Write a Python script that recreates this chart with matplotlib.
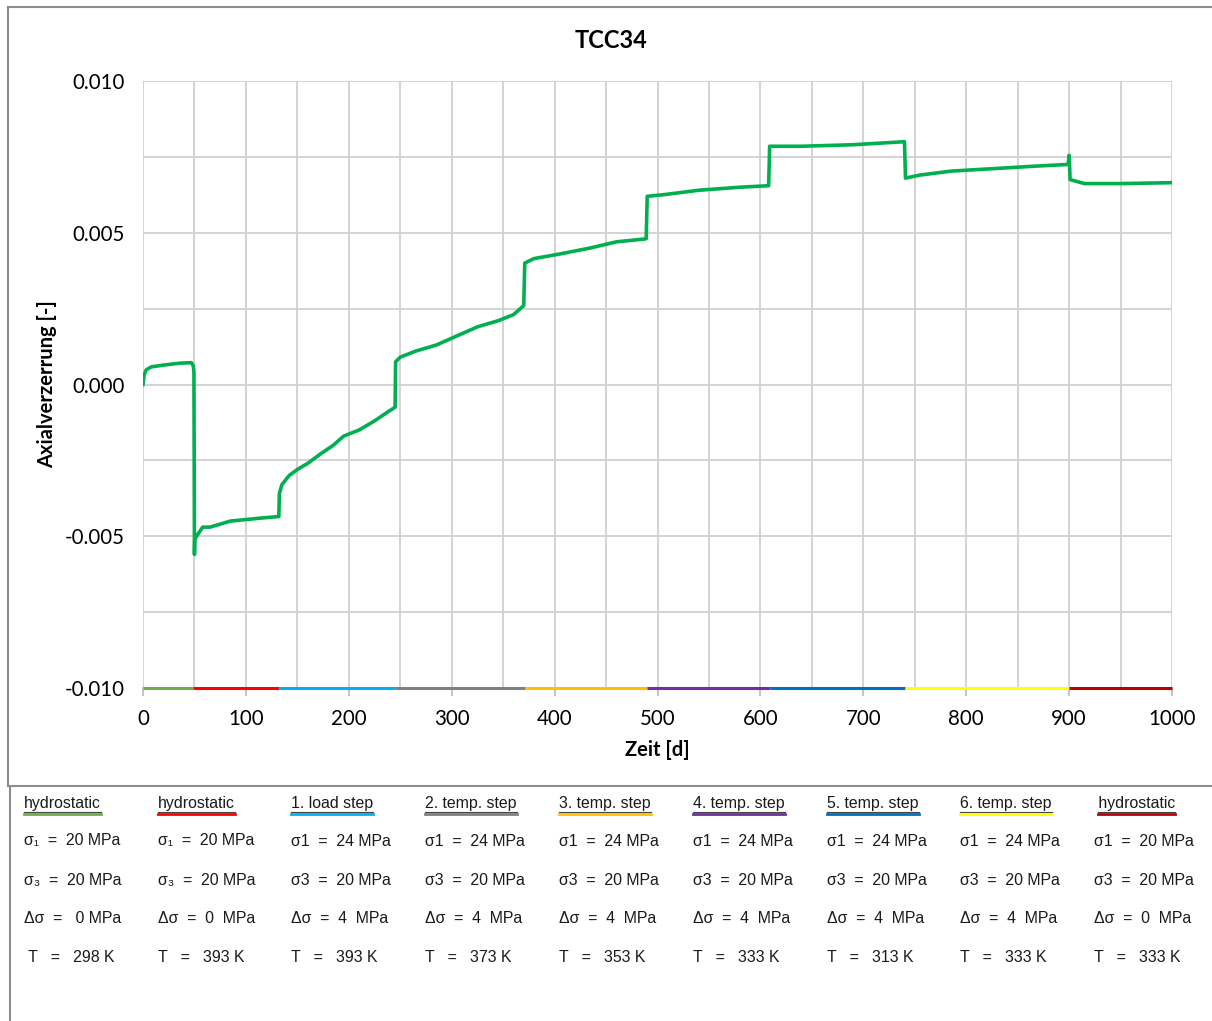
import matplotlib
matplotlib.use("Agg")
import matplotlib.pyplot as plt
from matplotlib.lines import Line2D
from matplotlib.ticker import MultipleLocator

plt.rcParams["font.family"] = ["Lato", "DejaVu Sans"]

# strain curve
days = [0, 1, 3, 8, 20, 35, 47, 49, 49.5,
        49.8, 50, 50.3, 54, 58, 65, 75, 85, 100, 115, 132,
        132.5, 135, 142, 150, 160, 172, 185, 195, 210, 225, 238, 245,
        245.5, 250, 265, 285, 305, 325, 345, 360, 370,
        371, 380, 405, 435, 460, 489,
        490, 505, 540, 580, 608,
        609, 640, 690, 740,
        741, 755, 785, 830, 870, 899,
        900, 901, 915, 950, 1000]
strain = [0.0, 0.0003, 0.00048, 0.00058, 0.00064, 0.0007, 0.00072, 0.0006, 0.0004,
          -0.003, -0.0056, -0.0051, -0.0049, -0.0047, -0.0047, -0.0046, -0.0045, -0.00445, -0.0044, -0.00435,
          -0.0036, -0.0033, -0.003, -0.0028, -0.0026, -0.0023, -0.002, -0.0017, -0.0015, -0.0012, -0.0009, -0.00075,
          0.00075, 0.0009, 0.0011, 0.0013, 0.0016, 0.0019, 0.0021, 0.0023, 0.0026,
          0.004, 0.00415, 0.0043, 0.0045, 0.0047, 0.0048,
          0.0062, 0.00625, 0.0064, 0.0065, 0.00655,
          0.00785, 0.00785, 0.0079, 0.008,
          0.0068, 0.0069, 0.00703, 0.00712, 0.0072, 0.00725,
          0.00755, 0.00675, 0.00662, 0.00662, 0.00665]

# load phases
phase_edges = [0, 49, 132, 245, 371, 490, 609, 741, 900, 1000]
phase_colors = ["#70AD47", "#FF0000", "#00B0F0", "#808080", "#FFC000",
                "#7030A0", "#0070C0", "#FFFF00", "#C00000"]
phase_names = ["hydrostatic", "hydrostatic", "1. load step", "2. temp. step",
               "3. temp. step", "4. temp. step", "5. temp. step", "6. temp. step",
               " hydrostatic"]
sig1 = ["σ₁  =  20 MPa", "σ₁  =  20 MPa", "σ1  =  24 MPa", "σ1  =  24 MPa",
        "σ1  =  24 MPa", "σ1  =  24 MPa", "σ1  =  24 MPa", "σ1  =  24 MPa",
        "σ1  =  20 MPa"]
sig3 = ["σ₃  =  20 MPa", "σ₃  =  20 MPa", "σ3  =  20 MPa", "σ3  =  20 MPa",
        "σ3  =  20 MPa", "σ3  =  20 MPa", "σ3  =  20 MPa", "σ3  =  20 MPa",
        "σ3  =  20 MPa"]
dsig = ["Δσ  =   0 MPa", "Δσ  =  0  MPa", "Δσ  =  4  MPa", "Δσ  =  4  MPa",
        "Δσ  =  4  MPa", "Δσ  =  4  MPa", "Δσ  =  4  MPa", "Δσ  =  4  MPa",
        "Δσ  =  0  MPa"]
temps = [" T   =   298 K", "T   =   393 K", "T   =   393 K", "T   =   373 K",
         "T   =   353 K", "T   =   333 K", "T   =   313 K", "T   =   333 K",
         "T   =   333 K"]

W, H = 1212, 1021
fig = plt.figure(figsize=(W / 100, H / 100), dpi=100)
ax = fig.add_axes([143 / W, 1 - 688 / H, (1172 - 143) / W, (688 - 81) / H])

ax.plot(days, strain, color="#00B050", lw=2.6, zorder=3, solid_joinstyle="round")

for i, c in enumerate(phase_colors):
    ax.plot([phase_edges[i], phase_edges[i + 1]], [-0.01, -0.01], color=c,
            lw=2.2, zorder=4, solid_capstyle="butt", clip_on=False)

ax.set_xlim(0, 1000)
ax.set_ylim(-0.01, 0.01)
ax.xaxis.set_major_locator(MultipleLocator(100))
ax.xaxis.set_minor_locator(MultipleLocator(50))
ax.yaxis.set_major_locator(MultipleLocator(0.005))
ax.yaxis.set_minor_locator(MultipleLocator(0.0025))
ax.grid(which="both", color="#D0D0D0", lw=1.3)
ax.set_axisbelow(True)
ax.yaxis.set_major_formatter(matplotlib.ticker.FormatStrFormatter("%.3f"))
for s in ["top", "right", "left"]:
    ax.spines[s].set_visible(False)
ax.spines["bottom"].set_color("#BFBFBF")
ax.spines["bottom"].set_linewidth(1.3)
ax.tick_params(axis="x", which="major", length=6, color="#BFBFBF", width=1.3,
               labelsize=14.8, pad=9)
ax.tick_params(axis="x", which="minor", length=0)
ax.tick_params(axis="y", which="both", length=0, labelsize=14.8, pad=13)

ax.set_xlabel("Zeit [d]", fontsize=14.5, fontweight="bold", labelpad=8)
ax.set_ylabel("Axialverzerrung [-]", fontsize=14.5, fontweight="bold", labelpad=6)
fig.text(611 / W, 1 - 40 / H, "TCC34", ha="center", va="center",
         fontsize=17, fontweight="bold")

# frames
frame = "#8C8C8C"
fig.add_artist(Line2D([8 / W, 1], [1 - 7 / H, 1 - 7 / H], color=frame, lw=1.5))
fig.add_artist(Line2D([8 / W, 8 / W], [1 - 7 / H, 1 - 786 / H], color=frame, lw=1.5))
fig.add_artist(Line2D([8 / W, 1], [1 - 786 / H, 1 - 786 / H], color=frame, lw=1.5))
fig.add_artist(Line2D([10 / W, 10 / W], [1 - 786 / H, 0], color=frame, lw=1.5))

# table of load phases
col_x = [24, 158, 291, 425, 559, 693, 827, 960, 1094]
row_y = [803, 841, 880, 918, 957]
tfont = dict(family=["Liberation Sans", "DejaVu Sans"], fontsize=11.4, color="#1A1A1A")
fig.canvas.draw()
r = fig.canvas.get_renderer()
for i in range(9):
    t = fig.text(col_x[i] / W, 1 - row_y[0] / H, phase_names[i], ha="left",
                 va="center", **tfont)
    bb = t.get_window_extent(renderer=r)
    x0 = bb.x0 / W
    x1 = bb.x1 / W
    if phase_names[i].startswith(" "):
        x0 = (bb.x0 + 4) / W
    yl = 1 - (row_y[0] + 9) / H
    fig.add_artist(Line2D([x0, x1], [yl, yl], color="#444444", lw=0.8))
    fig.add_artist(Line2D([x0, x1], [yl - 1.6 / H, yl - 1.6 / H],
                          color=phase_colors[i], lw=2.0))
    for j, rows in enumerate([sig1, sig3, dsig, temps]):
        fig.text(col_x[i] / W, 1 - row_y[j + 1] / H, rows[i], ha="left",
                 va="center", **tfont)

fig.savefig("out.png", dpi=100)
